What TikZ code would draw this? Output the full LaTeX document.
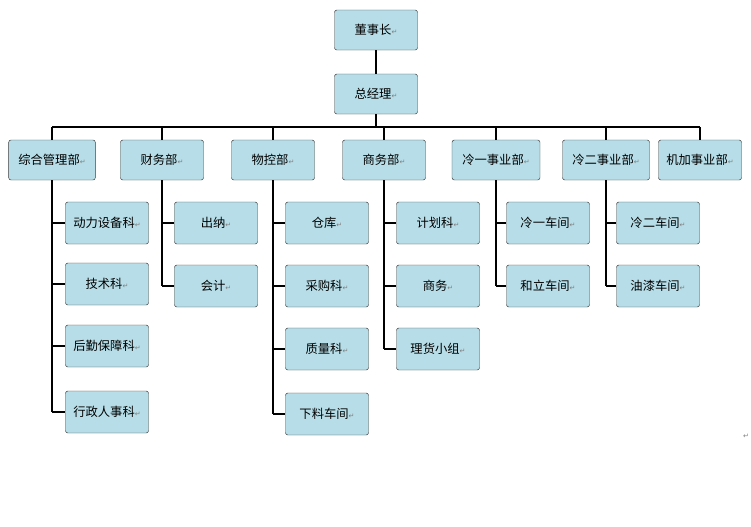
\documentclass[tikz,border=0pt]{standalone}
\usepackage{fontspec}
\setmainfont{Noto Sans CJK SC}
\newfontfamily\markfont{DejaVu Sans}
\definecolor{boxfill}{HTML}{B7DEE8}
\definecolor{boxline}{HTML}{3A3A3A}
\tikzstyle{box} = [rectangle, rounded corners=2pt, minimum width=2.49cm, minimum height=1.2cm, draw=boxline, fill=boxfill, font=\fontsize{10.5}{12}\selectfont, inner sep=1pt]
\tikzstyle{sub} = [box, minimum height=1.26cm]
\tikzstyle{line} = [line width=1.6pt, black]
\newcommand{\pmark}{{\markfont\fontsize{6}{6}\selectfont\color{gray}↵}}
\begin{document}
\begin{tikzpicture}[x=0.03cm, y=-0.03cm]
    \useasboundingbox (0,0) rectangle (751,526);

    \node (ceo) [box] at (376,30) {董事长\pmark};
    \node (gm) [box] at (376,94) {总经理\pmark};

    \node (zh) [box, minimum width=2.6cm] at (52,160) {综合管理部\pmark};
    \node (cw) [box] at (162,160) {财务部\pmark};
    \node (wk) [box] at (273,160) {物控部\pmark};
    \node (sw) [box] at (384,160) {商务部\pmark};
    \node (ly) [box, minimum width=2.64cm] at (496,160) {冷一事业部\pmark};
    \node (le) [box, minimum width=2.61cm] at (606,160) {冷二事业部\pmark};
    \node (jj) [box] at (700,160) {机加事业部\pmark};

    \node (zh1) [sub] at (107,223) {动力设备科\pmark};
    \node (zh2) [sub] at (107,284) {技术科\pmark};
    \node (zh3) [sub] at (107,346) {后勤保障科\pmark};
    \node (zh4) [sub] at (107,412) {行政人事科\pmark};
    \node (cw1) [sub] at (216,223) {出纳\pmark};
    \node (cw2) [sub] at (216,286) {会计\pmark};
    \node (wk1) [sub] at (327,223) {仓库\pmark};
    \node (wk2) [sub] at (327,286) {采购科\pmark};
    \node (wk3) [sub] at (327,349) {质量科\pmark};
    \node (wk4) [sub] at (327,414) {下料车间\pmark};
    \node (sw1) [sub] at (438,223) {计划科\pmark};
    \node (sw2) [sub] at (438,286) {商务\pmark};
    \node (sw3) [sub] at (438,349) {理货小组\pmark};
    \node (ly1) [sub] at (548,223) {冷一车间\pmark};
    \node (ly2) [sub] at (548,286) {和立车间\pmark};
    \node (le1) [sub] at (658,223) {冷二车间\pmark};
    \node (le2) [sub] at (658,286) {油漆车间\pmark};

    \node (endmark) at (746,436) {\pmark};

    \coordinate (bar) at (376,127);
    \draw[line] (ceo) -- (gm);
    \draw[line] (gm) -- (bar);
    \draw[line] (zh.north |- bar) -- (jj.north |- bar);
    \foreach \d in {zh,cw,wk,sw,ly,le,jj}
        \draw[line] (\d.north |- bar) -- (\d.north);

    \draw[line] (zh.south) -- (zh.south |- zh4.west);
    \foreach \s in {zh1,zh2,zh3,zh4} \draw[line] (zh.south |- \s.west) -- (\s.west);
    \draw[line] (cw.south) -- (cw.south |- cw2.west);
    \foreach \s in {cw1,cw2} \draw[line] (cw.south |- \s.west) -- (\s.west);
    \draw[line] (wk.south) -- (wk.south |- wk4.west);
    \foreach \s in {wk1,wk2,wk3,wk4} \draw[line] (wk.south |- \s.west) -- (\s.west);
    \draw[line] (sw.south) -- (sw.south |- sw3.west);
    \foreach \s in {sw1,sw2,sw3} \draw[line] (sw.south |- \s.west) -- (\s.west);
    \draw[line] (ly.south) -- (ly.south |- ly2.west);
    \foreach \s in {ly1,ly2} \draw[line] (ly.south |- \s.west) -- (\s.west);
    \draw[line] (le.south) -- (le.south |- le2.west);
    \foreach \s in {le1,le2} \draw[line] (le.south |- \s.west) -- (\s.west);
\end{tikzpicture}
\end{document}
